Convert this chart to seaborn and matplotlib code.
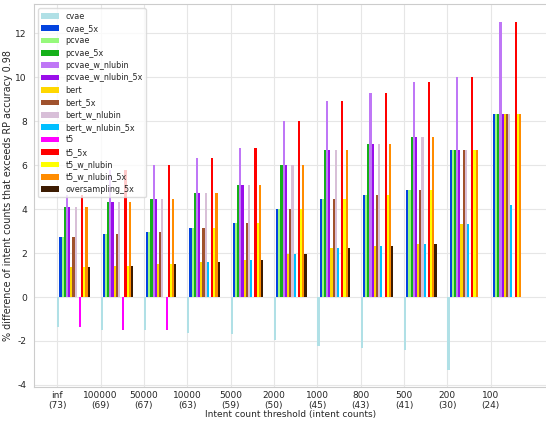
import numpy as np
import pandas as pd
import matplotlib
matplotlib.use("Agg")
import matplotlib.pyplot as plt
import seaborn as sns

thresholds = ["inf\n(73)", "100000\n(69)", "50000\n(67)", "10000\n(63)", "5000\n(59)",
              "2000\n(50)", "1000\n(45)", "800\n(43)", "500\n(41)", "200\n(30)", "100\n(24)"]

series_names = ["cvae", "cvae_5x", "pcvae", "pcvae_5x", "pcvae_w_nlubin", "pcvae_w_nlubin_5x",
                "bert", "bert_5x", "bert_w_nlubin", "bert_w_nlubin_5x", "t5", "t5_5x",
                "t5_w_nlubin", "t5_w_nlubin_5x", "oversampling_5x"]

cvae              = [-1.35, -1.48, -1.51, -1.62, -1.67, -1.97, -2.21, -2.33, -2.43, -3.33, 0.0]
cvae_5x           = [2.73, 2.88, 2.97, 3.15, 3.38, 4.00, 4.45, 4.64, 4.86, 6.67, 8.33]
pcvae             = [2.73, 2.88, 2.97, 3.15, 3.38, 4.00, 4.45, 4.64, 4.86, 6.67, 8.33]
pcvae_5x          = [4.10, 4.33, 4.45, 4.73, 5.08, 6.00, 6.67, 6.97, 7.30, 6.67, 8.33]
pcvae_w_nlubin    = [4.65, 5.76, 6.00, 6.33, 6.78, 8.00, 8.90, 9.30, 9.77, 10.00, 12.50]
pcvae_w_nlubin_5x = [4.10, 4.33, 4.45, 4.73, 5.08, 6.00, 6.67, 6.97, 7.30, 6.67, 8.33]
bert              = [1.35, 1.41, 1.50, 1.59, 1.70, 1.98, 2.23, 2.30, 2.41, 3.33, 8.33]
bert_5x           = [2.73, 2.88, 2.97, 3.15, 3.38, 4.00, 4.45, 4.64, 4.86, 6.67, 8.33]
bert_w_nlubin     = [4.10, 4.33, 4.45, 4.73, 5.08, 6.00, 6.67, 6.97, 7.30, 6.67, 8.33]
bert_w_nlubin_5x  = [0.0, 0.0, 0.0, 1.59, 1.70, 1.98, 2.23, 2.30, 2.41, 3.33, 4.17]
t5                = [-1.35, -1.48, -1.51, 0.0, 0.0, 0.0, 0.0, 0.0, 0.0, 0.0, 0.0]
t5_5x             = [4.65, 5.76, 6.00, 6.33, 6.78, 8.00, 8.90, 9.30, 9.77, 10.00, 12.50]
t5_w_nlubin       = [1.35, 1.41, 1.50, 3.15, 3.38, 4.00, 4.45, 4.64, 4.86, 6.67, 8.33]
t5_w_nlubin_5x    = [4.10, 4.33, 4.45, 4.73, 5.08, 6.00, 6.67, 6.97, 7.30, 6.67, 8.33]
oversampling_5x   = [1.35, 1.41, 1.50, 1.59, 1.70, 1.98, 2.23, 2.30, 2.41, 0.0, 0.0]

series_values = [cvae, cvae_5x, pcvae, pcvae_5x, pcvae_w_nlubin, pcvae_w_nlubin_5x,
                 bert, bert_5x, bert_w_nlubin, bert_w_nlubin_5x, t5, t5_5x,
                 t5_w_nlubin, t5_w_nlubin_5x, oversampling_5x]

colors = ["#b0e0e6", "#0343df", "#96f97b", "#15b01a", "#bf77f6", "#9a0eea",
          "#ffd700", "#a0522d", "#d8bfd8", "#00bfff", "#ff00ff", "#ff0000",
          "#ffff00", "#ff8c00", "#3d1c02"]

rows = []
for name, vals in zip(series_names, series_values):
    for t, v in zip(thresholds, vals):
        rows.append({"threshold": t, "model": name, "value": v})
df = pd.DataFrame(rows)

sns.set_style("whitegrid", {"grid.color": "#e6e6e6", "axes.edgecolor": "#cccccc"})
plt.rcParams["font.family"] = ["DejaVu Sans"]
plt.rcParams["axes.unicode_minus"] = False

fig = plt.figure(figsize=(5.46, 4.23), dpi=100)
ax = fig.add_axes([34 / 546, 36.3 / 423, (546.5 - 34) / 546, (386.7 - 4.3) / 423])

total_w = 0.75
sns.barplot(data=df, x="threshold", y="value", hue="model", order=thresholds,
            hue_order=series_names, palette=colors, saturation=1, width=total_w,
            gap=0, ax=ax, errorbar=None, linewidth=0)

n = len(thresholds)
pos = np.arange(n) - total_w / 2
ax.set_xticks(pos)
ax.set_xticklabels(thresholds, fontsize=6.5)
ax.set_xlim(pos[0] - 0.5375, pos[-1] + 0.75 + 0.5375)
ax.set_ylim(-4.08, 13.32)
ax.set_yticks(np.arange(-4, 13, 2))
ax.tick_params(axis="y", labelsize=6.6, length=3, color="#cccccc", pad=2)
ax.tick_params(axis="x", length=0, pad=3)
ax.grid(True, color="#e6e6e6", linewidth=0.8)
ax.set_xlabel("Intent count threshold (intent counts)", fontsize=6.5, labelpad=0)
ax.set_ylabel("% difference of intent counts that exceeds RP accuracy 0.98", fontsize=6.9, labelpad=2)

leg = ax.legend(loc="upper left", fontsize=5.8, labelspacing=0.42, handlelength=2.2,
                frameon=True, borderaxespad=0.5)
leg.get_frame().set_edgecolor("#d5d5d5")
leg.get_frame().set_alpha(0.8)

fig.savefig("out.png", dpi=100)
